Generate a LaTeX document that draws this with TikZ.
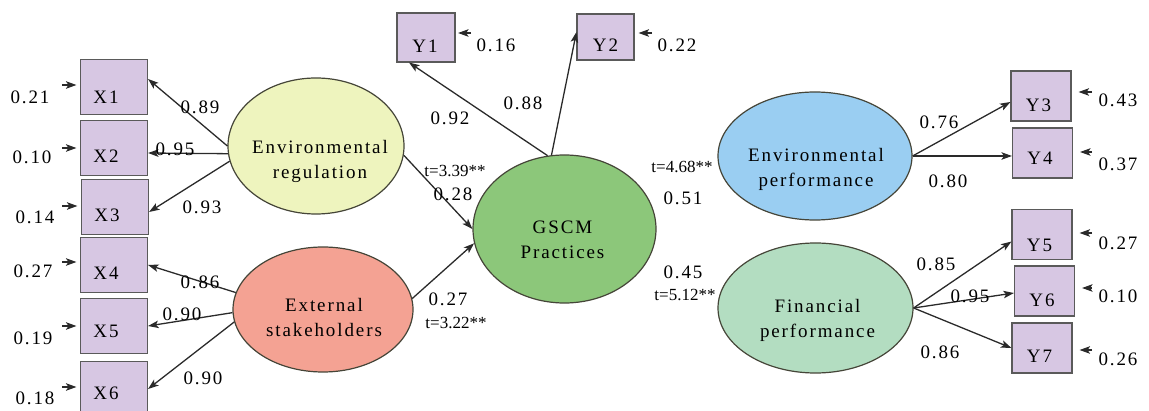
\documentclass[tikz,border=0pt]{standalone}
\usepackage{fontspec}
\setmainfont{Liberation Serif}
\newfontfamily\spaced[LetterSpace=10]{Liberation Serif}
\usetikzlibrary{shapes.geometric,arrows.meta,calc}

\definecolor{obsfill}{HTML}{D7C7E3}
\definecolor{boxline}{HTML}{5A5A5A}
\definecolor{regfill}{HTML}{EEF4BE}
\definecolor{stkfill}{HTML}{F4A293}
\definecolor{gscmfill}{HTML}{8CC77A}
\definecolor{epfill}{HTML}{9ACEF2}
\definecolor{fpfill}{HTML}{B3DDC1}
\definecolor{latline}{HTML}{454538}
\definecolor{conn}{HTML}{2A2A2A}

\begin{document}
\begin{tikzpicture}[x=1pt, y=-1pt,
  num/.style={font=\spaced\fontsize{19}{19}\selectfont, inner sep=0pt},
  tv/.style={font=\fontsize{17}{17}\selectfont, inner sep=0pt},
  btext/.style={num, anchor=base},
  xobs/.style={draw=boxline, line width=1.1pt, fill=obsfill, inner sep=0pt,
    minimum width=67pt, minimum height=55pt},
  yobs/.style={draw=boxline, line width=1.1pt, fill=obsfill, inner sep=0pt,
    minimum width=60pt, minimum height=50pt},
  lat/.style={ellipse, draw=latline, line width=1.2pt, inner sep=0pt},
  link/.style={draw=conn, line width=1.3pt,
    -{Stealth[length=10.5pt, width=7.5pt, inset=2.5pt]}},
  err/.style={link, shorten >=#1},
]
\useasboundingbox (0,0) rectangle (1149,411);

% latent variables
\node[lat, fill=regfill, minimum width=176pt, minimum height=136pt] (er) at (316,146) {};
\node[lat, fill=stkfill, minimum width=180pt, minimum height=125pt] (es) at (323,309.5) {};
\node[lat, fill=gscmfill, minimum width=183pt, minimum height=148pt] (gscm) at (564.5,229) {};
\node[lat, fill=epfill, minimum width=194pt, minimum height=128pt] (ep) at (815,156) {};
\node[lat, fill=fpfill, minimum width=195pt, minimum height=130pt] (fp) at (815.5,308) {};

\node[btext] (er-a) at ($(er)+(4,8)$) {Environmental};
\node[btext] (er-b) at ($(er)+(4,33)$) {regulation};
\node[btext] (es-a) at ($(es)+(1,2)$) {External};
\node[btext] (es-b) at ($(es)+(1,27)$) {stakeholders};
\node[btext] (gscm-a) at ($(gscm)+(-2,5)$) {GSCM};
\node[btext] (gscm-b) at ($(gscm)+(-2,30)$) {Practices};
\node[btext] (ep-a) at ($(ep)+(1,6)$) {Environmental};
\node[btext] (ep-b) at ($(ep)+(1,31)$) {performance};
\node[btext] (fp-a) at ($(fp)+(2,5)$) {Financial};
\node[btext] (fp-b) at ($(fp)+(2,30)$) {performance};

% observed indicators
\node[xobs] (x1) at (114,87) {};
\node[xobs] (x2) at (114,148) {};
\node[xobs] (x3) at (115,207) {};
\node[xobs] (x4) at (114,265) {};
\node[xobs] (x5) at (114,326) {};
\node[xobs] (x6) at (114,389) {};
\node[btext] (x1-t) at ($(x1)+(-8,17)$) {X1};
\node[btext] (x2-t) at ($(x2)+(-8,15)$) {X2};
\node[btext] (x3-t) at ($(x3)+(-8,15)$) {X3};
\node[btext] (x4-t) at ($(x4)+(-8,15)$) {X4};
\node[btext] (x5-t) at ($(x5)+(-8,12)$) {X5};
\node[btext] (x6-t) at ($(x6)+(-8,11)$) {X6};

\node[yobs, minimum width=58pt, minimum height=49pt] (y1) at (426,37.5) {};
\node[yobs, minimum width=57pt, minimum height=46pt] (y2) at (605.5,37) {};
\node[yobs] (y3) at (1041,96) {};
\node[yobs] (y4) at (1042.5,153) {};
\node[yobs] (y5) at (1042,234.5) {};
\node[yobs] (y6) at (1044.5,291) {};
\node[yobs] (y7) at (1042,348) {};
\node[btext] (y1-t) at ($(y1)+(-1,15)$) {Y1};
\node[btext] (y2-t) at ($(y2)+(0,15)$) {Y2};
\node[btext] (y3-t) at ($(y3)+(-2.5,16)$) {Y3};
\node[btext] (y4-t) at ($(y4)+(-2.5,12)$) {Y4};
\node[btext] (y5-t) at ($(y5)+(-2.5,17)$) {Y5};
\node[btext] (y6-t) at ($(y6)+(-2.5,16)$) {Y6};
\node[btext] (y7-t) at ($(y7)+(-2.5,15)$) {Y7};

% measurement paths
\draw[link] (er.180) -- ($(x1.east)+(0,-8)$);
\draw[link] (er.185) -- ($(x2.east)+(0,5)$);
\draw[link] (er.190) -- ($(x3.east)+(0,5)$);
\draw[link] (es.169) -- (x4.east);
\draw[link] (es.182) -- (x5.east);
\draw[link] (es.188) -- (x6.east);
\draw[link] (gscm.103) -- ($(y1.south)+(-17,0)$);
\draw[link] (gscm.100) -- ($(y2.west)+(0,-5)$);
\draw[link] (ep.east) -- ($(y3.west)+(0,6)$);
\draw[link] (ep.east) -- ($(y4.west)+(0,3)$);
\draw[link] (fp.east) -- ($(y5.west)+(0,7)$);
\draw[link] (fp.east) -- ($(y6.west)+(0,2)$);
\draw[link] (fp.east) -- (y7.west);

% structural paths
\draw[link] (er.354) -- (gscm.180);
\draw[link] (es.7) -- (gscm.189);

% error terms
\coordinate (ex1) at (62,85);
\coordinate (ex2) at (62,148);
\coordinate (ex3) at (62,206);
\coordinate (ex4) at (62,262);
\coordinate (ex5) at (62,326);
\coordinate (ex6) at (62,387);
\foreach \i in {1,...,6} {\draw[err=3.5pt] (ex\i) -- (ex\i -| x\i.west);}
\coordinate (ey1) at (471,33);
\coordinate (ey2) at (652,33);
\draw[err=2.5pt] (ey1) -- (ey1 -| y1.east);
\draw[err=4pt] (ey2) -- (ey2 -| y2.east);
\coordinate (ey3) at (1092,92);
\coordinate (ey4) at (1092,152);
\coordinate (ey5) at (1092,233);
\coordinate (ey6) at (1092,288);
\coordinate (ey7) at (1092,350);
\foreach \i in {3,...,7} {\draw[err=7pt] (ey\i) -- (ey\i -| y\i.east);}

% error variances
\node[num] (v1) at (30,97) {0.21};
\node[num] (v2) at (32,157) {0.10};
\node[num] (v3) at (35,217) {0.14};
\node[num] (v4) at (33,271) {0.27};
\node[num] (v5) at (33,338) {0.19};
\node[num] (v6) at (35,398) {0.18};
\node[num] (w1) at (496,45) {0.16};
\node[num] (w2) at (677,45) {0.22};
\node[num] (w3) at (1118,100) {0.43};
\node[num] (w4) at (1118,164) {0.37};
\node[num] (w5) at (1118,243) {0.27};
\node[num] (w6) at (1118,296) {0.10};
\node[num] (w7) at (1118,359) {0.26};

% loadings
\node[num] (l1) at (200,107) {0.89};
\node[num] (l2) at (175,149) {0.95};
\node[num] (l3) at (202,207) {0.93};
\node[num] (l4) at (200,282) {0.86};
\node[num] (l5) at (182,314) {0.90};
\node[num] (l6) at (203,378) {0.90};
\node[num] (m1) at (450,118) {0.92};
\node[num] (m2) at (523,103) {0.88};
\node[num] (m3) at (939,122) {0.76};
\node[num] (m4) at (948,181) {0.80};
\node[num] (m5) at (936,264) {0.85};
\node[num] (m6) at (970,296) {0.95};
\node[num] (m7) at (940,352) {0.86};

% path coefficients
\node[tv] (t1) at (455,171) {t=3.39**};
\node[num] (c1) at (453,194) {0.28};
\node[num] (c2) at (448,299) {0.27};
\node[tv] (t2) at (456,323) {t=3.22**};
\node[tv] (t3) at (682,167) {t=4.68**};
\node[num] (c3) at (683,198) {0.51};
\node[num] (c4) at (683,272) {0.45};
\node[tv] (t4) at (685,295) {t=5.12**};
\end{tikzpicture}
\end{document}
